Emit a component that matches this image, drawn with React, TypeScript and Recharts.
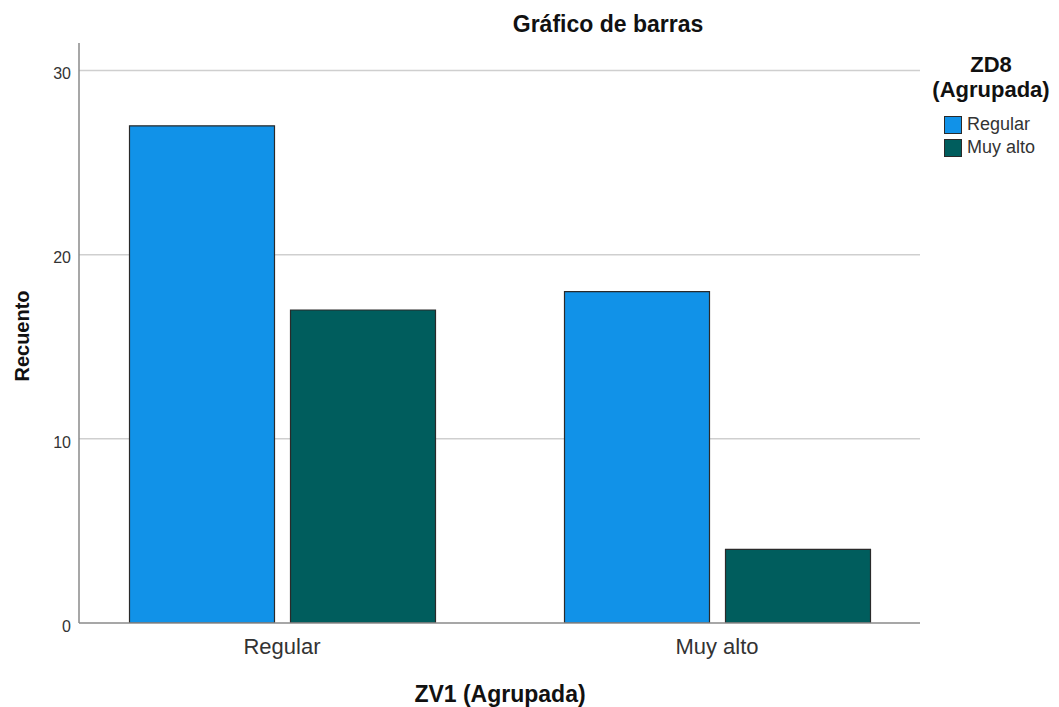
import React from 'react';
import { BarChart, Bar, XAxis, YAxis, CartesianGrid } from 'recharts';

const categories = ['Regular', 'Muy alto'];
const regularValues = [27, 18];
const muyAltoValues = [17, 4];
const seriesNames = ['Regular', 'Muy alto'];
const seriesColors = ['#1192e8', '#005d5d'];
const yTicks = [0, 10, 20, 30];
const gridValues = [10, 20, 30];

const data = categories.map((c, i) => ({
  cat: c,
  regular: regularValues[i],
  muyAlto: muyAltoValues[i],
}));

const FONT = '"Liberation Sans", Arial, sans-serif';

export default function App() {
  return (
    <div style={{ position: 'absolute', left: 0, top: 0, width: 1059, height: 707, background: '#fff', fontFamily: FONT }}>
      <BarChart
        width={1059}
        height={707}
        data={data}
        margin={{ top: 43, right: 139, bottom: 44, left: 19 }}
        barSize={145}
        barGap={16}
      >
        <CartesianGrid horizontal vertical={false} horizontalValues={gridValues} syncWithTicks={false} stroke="#cfcfcf" strokeWidth={1.5} />
        <XAxis
          dataKey="cat"
          height={40}
          padding={{ left: -14.5, right: -14.5 }}
          axisLine={{ stroke: '#8a8a8a', strokeWidth: 1.5 }}
          tickLine={false}
          tickSize={0}
          tickMargin={15}
          tick={{ fill: '#333', fontSize: 22, fontFamily: FONT }}
        />
        <YAxis
          width={60}
          domain={[0, 31.5]}
          ticks={yTicks}
          allowDataOverflow
          axisLine={{ stroke: '#8a8a8a', strokeWidth: 1.5 }}
          tickLine={false}
          tickSize={0}
          tickMargin={8}
          tick={{ fill: '#333', fontSize: 16, fontFamily: FONT, dy: 3 }}
        />
        <Bar dataKey="regular" name={seriesNames[0]} fill={seriesColors[0]} stroke="#2a2a2a" strokeWidth={1.2} isAnimationActive={false} />
        <Bar dataKey="muyAlto" name={seriesNames[1]} fill={seriesColors[1]} stroke="#2a2a2a" strokeWidth={1.2} isAnimationActive={false} />
      </BarChart>

      <div style={{ position: 'absolute', left: 408, width: 400, top: 10, lineHeight: '28px', fontSize: 23, fontWeight: 'bold', textAlign: 'center', color: '#111' }}>
        Gráfico de barras
      </div>

      <div style={{ position: 'absolute', left: 300, width: 400, top: 680, lineHeight: '28px', fontSize: 23, fontWeight: 'bold', textAlign: 'center', color: '#111' }}>
        ZV1 (Agrupada)
      </div>

      <div style={{ position: 'absolute', left: 22, top: 336, transform: 'translate(-50%, -50%) rotate(-90deg)', whiteSpace: 'nowrap', fontSize: 20, fontWeight: 'bold', color: '#111', lineHeight: '24px' }}>
        Recuento
      </div>

      <div style={{ position: 'absolute', left: 921, width: 140, top: 52, lineHeight: '25px', fontSize: 22, fontWeight: 'bold', textAlign: 'center', color: '#111' }}>
        <div>ZD8</div>
        <div>(Agrupada)</div>
      </div>

      <div style={{ position: 'absolute', left: 944, top: 113 }}>
        {seriesNames.map((n, i) => (
          <div key={n} style={{ display: 'flex', alignItems: 'center', height: 23 }}>
            <div style={{ width: 16, height: 16, background: seriesColors[i], border: '1px solid #2a2a2a' }} />
            <span style={{ marginLeft: 5, fontSize: 18, color: '#333', lineHeight: '23px' }}>{n}</span>
          </div>
        ))}
      </div>
    </div>
  );
}
